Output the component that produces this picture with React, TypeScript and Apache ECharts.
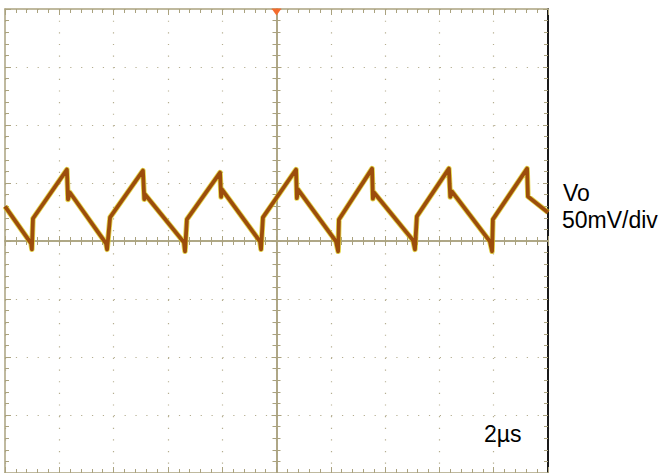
import React, { useEffect, useRef } from "react";
import * as echarts from "echarts";

// Oscilloscope capture: time relative to trigger (µs), output ripple (mV)
const TIME_US = [
  -10.0, -9.04, -9.01, -8.97, -7.72, -7.68, -7.61,
  -6.28, -6.24, -6.13, -4.92, -4.87, -4.84,
  -3.41, -3.37, -3.30, -2.08, -2.04, -2.01,
  -0.61, -0.57, -0.50, 0.72, 0.75, 0.79,
  2.19, 2.27, 2.30, 3.52, 3.55, 3.59,
  5.03, 5.10, 5.17, 6.35, 6.40, 6.46,
  7.86, 7.94, 7.97, 9.23, 9.26, 10.0,
];
const VO_MV = [
  29.8, -2.1, -7.2, 19.4, 61.6, 35.8, 41.8,
  -2.1, -7.2, 20.3, 60.7, 36.0, 40.1,
  -1.2, -8.9, 18.6, 59.0, 38.0, 44.4,
  -0.3, -7.2, 20.3, 61.6, 37.0, 44.4,
  -0.3, -8.9, 18.6, 62.4, 36.5, 41.8,
  0.5, -7.2, 21.2, 62.4, 38.0, 42.7,
  -0.3, -8.9, 18.6, 62.4, 38.4, 24.6,
];

const TIME_RANGE = [-10, 10];
const TIME_DIV = 2;
const VOLT_RANGE = [-200, 200];
const VOLT_DIV = 50;
const MINOR_PER_DIV = 5;

const CHANNEL_LABEL = "Vo";
const SCALE_LABEL = "50mV/div";
const TIMEBASE_LABEL = "2µs";

const GRID_COLOR = "#aaa27f";
const DOT_COLOR = "#b5ae90";
const TRACE_COLOR = "#9c4d0c";
const FRINGE_COLOR = "#dcc814";
const TRIGGER_COLOR = "#f46b2c";

export default function App() {
  const ref = useRef<HTMLDivElement>(null);

  useEffect(() => {
    if (!ref.current) return;
    const chart = echarts.init(ref.current, undefined, { renderer: "svg" });
    const data = TIME_US.map((t, i) => [t, VO_MV[i]]);

    const baseX = {
      type: "value" as const,
      min: TIME_RANGE[0],
      max: TIME_RANGE[1],
      interval: TIME_DIV,
      axisLabel: { show: false },
      splitLine: { show: false },
    };
    const baseY = {
      type: "value" as const,
      min: VOLT_RANGE[0],
      max: VOLT_RANGE[1],
      interval: VOLT_DIV,
      axisLabel: { show: false },
      splitLine: { show: false },
    };
    const tickStyle = { color: GRID_COLOR, width: 1 };

    chart.setOption({
      animation: false,
      backgroundColor: "#ffffff",
      grid: { left: 5, right: 116, top: 9, bottom: -1, containLabel: false },
      xAxis: [
        {
          ...baseX,
          position: "bottom",
          axisLine: { show: true, onZero: false, lineStyle: { color: GRID_COLOR, width: 1.5 } },
          axisTick: { show: true, inside: true, length: 6, lineStyle: tickStyle },
          minorTick: { show: true, splitNumber: MINOR_PER_DIV, length: 4, lineStyle: tickStyle },
          splitLine: { show: true, lineStyle: { color: DOT_COLOR, width: 1.2, type: [1.2, 10.43] } },
        },
        {
          ...baseX,
          position: "top",
          axisLine: { show: true, onZero: false, lineStyle: { color: GRID_COLOR, width: 1.5 } },
          axisTick: { show: true, inside: true, length: 6, lineStyle: tickStyle },
          minorTick: { show: true, splitNumber: MINOR_PER_DIV, length: 4, lineStyle: tickStyle },
        },
        {
          ...baseX,
          position: "bottom",
          axisLine: { show: true, onZero: true, lineStyle: { color: GRID_COLOR, width: 1.5 } },
          axisTick: { show: true, inside: true, length: 5, lineStyle: tickStyle },
          minorTick: { show: true, splitNumber: MINOR_PER_DIV, length: 4, lineStyle: tickStyle },
        },
        {
          ...baseX,
          position: "bottom",
          axisLine: { show: true, onZero: true, lineStyle: { color: GRID_COLOR, width: 1.5 } },
          axisTick: { show: true, inside: false, length: 5, lineStyle: tickStyle },
          minorTick: { show: true, splitNumber: MINOR_PER_DIV, length: 4, lineStyle: tickStyle },
        },
      ],
      yAxis: [
        {
          ...baseY,
          position: "left",
          axisLine: { show: true, onZero: false, lineStyle: { color: GRID_COLOR, width: 1.5 } },
          axisTick: { show: true, inside: true, length: 6, lineStyle: tickStyle },
          minorTick: { show: true, splitNumber: MINOR_PER_DIV, length: 4, lineStyle: tickStyle },
          splitLine: { show: true, lineStyle: { color: DOT_COLOR, width: 1.2, type: [1.2, 9.67] } },
        },
        {
          ...baseY,
          position: "right",
          axisLine: { show: true, onZero: false, lineStyle: { color: "#1a1a1a", width: 2 } },
          axisTick: { show: true, inside: true, length: 5, lineStyle: tickStyle },
          minorTick: { show: true, splitNumber: MINOR_PER_DIV, length: 4, lineStyle: tickStyle },
        },
        {
          ...baseY,
          position: "left",
          axisLine: { show: true, onZero: true, lineStyle: { color: GRID_COLOR, width: 1.5 } },
          axisTick: { show: true, inside: true, length: 5, lineStyle: tickStyle },
          minorTick: { show: true, splitNumber: MINOR_PER_DIV, length: 4, lineStyle: tickStyle },
        },
        {
          ...baseY,
          position: "left",
          axisLine: { show: true, onZero: true, lineStyle: { color: GRID_COLOR, width: 1.5 } },
          axisTick: { show: true, inside: false, length: 5, lineStyle: tickStyle },
          minorTick: { show: true, splitNumber: MINOR_PER_DIV, length: 4, lineStyle: tickStyle },
        },
      ],
      series: [
        {
          type: "line",
          data,
          showSymbol: false,
          symbol: "none",
          lineStyle: { color: FRINGE_COLOR, width: 5.5, opacity: 0.75, join: "round" },
          z: 3,
        },
        {
          type: "line",
          data,
          showSymbol: false,
          symbol: "none",
          lineStyle: { color: TRACE_COLOR, width: 3.8, join: "round" },
          z: 4,
          markPoint: {
            symbol: "triangle",
            symbolRotate: 180,
            symbolSize: [10, 7],
            symbolOffset: [0, 3],
            label: { show: false },
            itemStyle: { color: TRIGGER_COLOR },
            data: [{ coord: [0, VOLT_RANGE[1]] }],
          },
        },
      ],
      graphic: [
        {
          type: "text",
          x: 563,
          y: 192.5,
          style: {
            text: CHANNEL_LABEL,
            fontSize: 23,
            fontFamily: "Liberation Sans, Arial, sans-serif",
            fill: "#000",
            verticalAlign: "middle",
          },
        },
        {
          type: "text",
          x: 562,
          y: 219.7,
          style: {
            text: SCALE_LABEL,
            fontSize: 23,
            fontFamily: "Liberation Sans, Arial, sans-serif",
            fill: "#000",
            verticalAlign: "middle",
          },
        },
        {
          type: "text",
          x: 484,
          y: 433.5,
          style: {
            text: TIMEBASE_LABEL,
            fontSize: 23,
            fontFamily: "Liberation Sans, Arial, sans-serif",
            fill: "#000",
            verticalAlign: "middle",
          },
        },
      ],
    });

    return () => chart.dispose();
  }, []);

  return (
    <div
      ref={ref}
      style={{ position: "fixed", left: 0, top: 0, width: 664, height: 473, background: "#fff" }}
    />
  );
}
